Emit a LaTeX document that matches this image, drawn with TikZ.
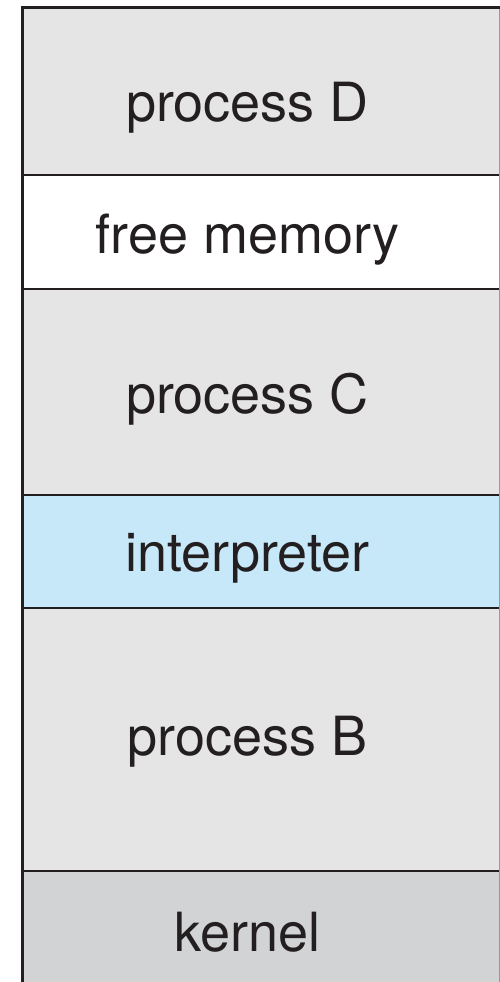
\documentclass[tikz,border=0pt]{standalone}
\usepackage{fontspec}
\setsansfont{TeX Gyre Heros}
\usepackage{tikz}
\usetikzlibrary{positioning,chains}
\definecolor{process fill}{HTML}{E5E5E5}
\definecolor{interpreter fill}{HTML}{C7E8F9}
\definecolor{kernel fill}{HTML}{D1D3D4}
\definecolor{ink}{HTML}{231F20}
\tikzset{
	memory layout/.style={
		x=1pt,y=-1pt,
		start chain=going below,
		node distance=0pt,
		font=\sffamily\fontsize{54}{60}\selectfont,
		divider/.style={line width=2pt,draw=ink},
		outer edge/.style={line width=3pt,draw=ink,line cap=rect},
		right edge/.style={line width=1pt,draw=black!40}
	},
	segment/.style={
		rectangle,
		on chain,
		minimum width=477pt,
		inner sep=0pt,
		outer sep=0pt,
		text=ink,
		text depth=0pt,
		execute at end node=\kern26pt % text sits a little left of centre
	},
	process/.style={
		segment,
		fill=process fill
	},
	free/.style={
		segment,
		fill=white
	},
	interp/.style={
		segment,
		fill=interpreter fill
	},
	kernel/.style={
		segment,
		fill=kernel fill
	}
}

\begin{document}
\begin{tikzpicture}[memory layout]
		\useasboundingbox (0,0) rectangle (500,982);
		% text height only sets where the baseline falls in each box
		\node[process,minimum height=167pt,text height=60pt] (procD) at (260.5,91.5) {process D};
		\node[free,minimum height=114pt,text height=42pt] (free) {free memory};
		\node[process,minimum height=206pt,text height=42pt] (procC) {process C};
		\node[interp,minimum height=113pt,text height=40pt] (interp) {interpreter};
		\node[process,minimum height=263pt,text height=31pt] (procB) {process B};
		\node[kernel,minimum height=111pt,text height=49pt] (kern) {kernel};
		% borders
		\draw[right edge] (procD.north east) -- (kern.south east);
		\foreach \upper in {procD,free,procC,interp,procB}
			\draw[divider] (\upper.south west) -- (\upper.south east);
		\draw[outer edge] (procD.north east) -- (procD.north west) -- (kern.south west);
	\end{tikzpicture}
\end{document}
